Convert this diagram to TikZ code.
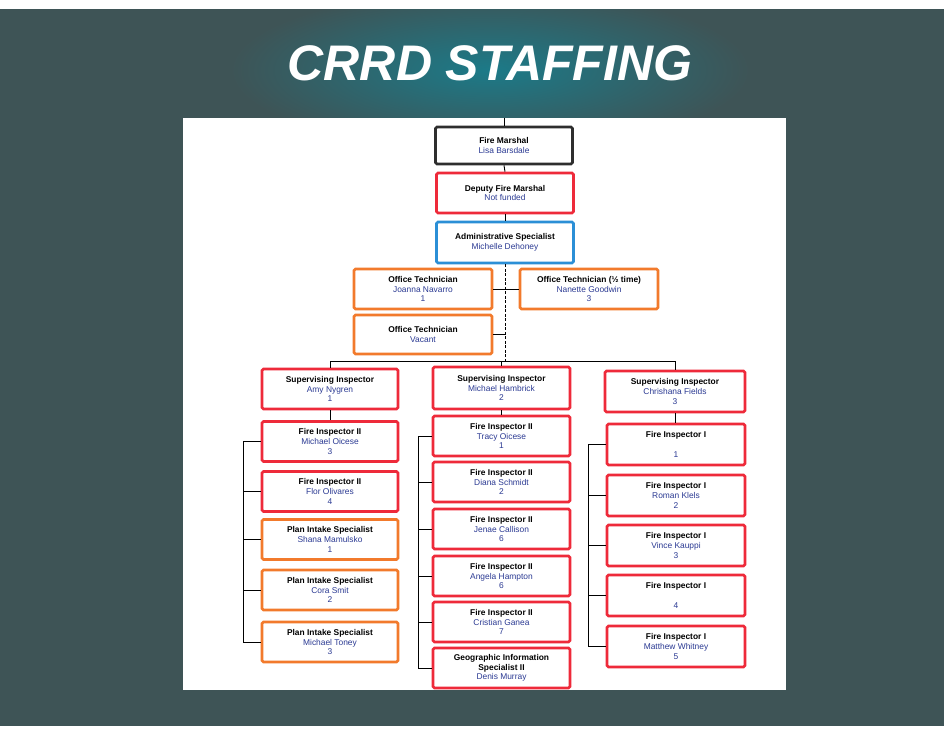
\documentclass[tikz,border=0pt]{standalone}
\usepackage{fontspec}
\setmainfont{Liberation Sans}
\definecolor{bgdark}{HTML}{3E5456}
\definecolor{bgteal}{HTML}{1C7A88}
\definecolor{boxred}{HTML}{EE2A3A}
\definecolor{boxorange}{HTML}{F27A2C}
\definecolor{boxblue}{HTML}{2B8FD6}
\definecolor{boxdark}{HTML}{2E2E2E}
\definecolor{nameblue}{HTML}{2B3A93}
\newcommand{\staffln}[3]{\textbf{#1}\\\textcolor{nameblue}{#2}\\\textcolor{nameblue}{#3}}
\newcommand{\stafftwo}[2]{\textbf{#1}\\\textcolor{nameblue}{#2}}
\tikzset{
  staffbox/.style={draw, line width=2.6pt, fill=white, rounded corners=1.5pt,
    minimum width=137pt, minimum height=40pt, align=center, inner sep=1pt,
    font=\fontsize{8.4}{9.6}\selectfont},
  redbox/.style={staffbox, draw=boxred},
  orangebox/.style={staffbox, draw=boxorange},
  bluebox/.style={staffbox, draw=boxblue},
  darkbox/.style={staffbox, draw=boxdark},
  conn/.style={draw=black, line width=0.9pt}
}
\begin{document}
\begin{tikzpicture}[x=1pt,y=-1pt]
\useasboundingbox (0,0) rectangle (951,729);
\fill[white] (0,0) rectangle (951,729);
\fill[bgdark] (0,9) rectangle (944,726);
\begin{scope}
\clip (0,9) rectangle (944,726);
\shade[inner color=bgteal, outer color=bgdark] (490,70) ellipse (260pt and 80pt);
\end{scope}
\fill[white] (183,118) rectangle (786,690);
% title
\node[text=white, font=\fontsize{50}{50}\selectfont\bfseries\itshape] (title) at (490,63) {CRRD STAFFING};
% top chain
\node[darkbox, minimum height=37pt] (fm) at (504,145.5) {\stafftwo{Fire Marshal}{Lisa Barsdale}};
\node[redbox] (dep) at (505,193) {\stafftwo{Deputy Fire Marshal}{Not funded}};
\node[bluebox, minimum height=41pt] (adm) at (505,242.5) {\stafftwo{Administrative Specialist}{Michelle Dehoney}};
\node[orangebox, minimum width=138pt] (jo) at (423,289) {\staffln{Office Technician}{Joanna Navarro}{1}};
\node[orangebox, minimum width=138pt] (half) at (589,289) {\staffln{Office Technician (½ time)}{Nanette Goodwin}{3}};
\node[orangebox, minimum width=138pt, minimum height=39pt] (vac) at (423,334.5) {\stafftwo{Office Technician}{Vacant}};
% supervisors
\node[redbox, minimum width=136pt] (amy) at (330,389) {\staffln{Supervising Inspector}{Amy Nygren}{1}};
\node[redbox, minimum height=42pt] (hamb) at (501.5,388) {\staffln{Supervising Inspector}{Michael Hambrick}{2}};
\node[redbox, minimum width=140pt, minimum height=41pt] (chr) at (675,391.5) {\staffln{Supervising Inspector}{Chrishana Fields}{3}};
% column 1
\node[redbox, minimum width=136pt] (ca) at (330,441.5) {\staffln{Fire Inspector II}{Michael Oicese}{3}};
\node[redbox, minimum width=136pt] (cb) at (330,491.5) {\staffln{Fire Inspector II}{Flor Olivares}{4}};
\node[orangebox, minimum width=136pt] (cc) at (330,539.5) {\staffln{Plan Intake Specialist}{Shana Mamulsko}{1}};
\node[orangebox, minimum width=136pt] (cd) at (330,590) {\staffln{Plan Intake Specialist}{Cora Smit}{2}};
\node[orangebox, minimum width=136pt] (ce) at (330,642) {\staffln{Plan Intake Specialist}{Michael Toney}{3}};
% column 2
\node[redbox] (da) at (501.5,436) {\staffln{Fire Inspector II}{Tracy Oicese}{1}};
\node[redbox] (db) at (501.5,482) {\staffln{Fire Inspector II}{Diana Schmidt}{2}};
\node[redbox] (dc) at (501.5,529) {\staffln{Fire Inspector II}{Jenae Callison}{6}};
\node[redbox] (dd) at (501.5,576) {\staffln{Fire Inspector II}{Angela Hampton}{6}};
\node[redbox] (de) at (501.5,622) {\staffln{Fire Inspector II}{Cristian Ganea}{7}};
\node[redbox] (df) at (501.5,668) {\textbf{Geographic Information}\\\textbf{Specialist II}\\\textcolor{nameblue}{Denis Murray}};
% column 3
\node[redbox, minimum width=138pt, minimum height=41pt] (ea) at (676,444.5) {\textbf{Fire Inspector I}\\\strut\\\textcolor{nameblue}{1}};
\node[redbox, minimum width=138pt, minimum height=41pt] (eb) at (676,495.5) {\staffln{Fire Inspector I}{Roman Klels}{2}};
\node[redbox, minimum width=138pt, minimum height=41pt] (ec) at (676,545.5) {\staffln{Fire Inspector I}{Vince Kauppi}{3}};
\node[redbox, minimum width=138pt, minimum height=41pt] (ed) at (676,595.5) {\textbf{Fire Inspector I}\\\strut\\\textcolor{nameblue}{4}};
\node[redbox, minimum width=138pt, minimum height=41pt] (ee) at (676,646.5) {\staffln{Fire Inspector I}{Matthew Whitney}{5}};
% connectors
\coordinate (topin) at (504,118);
\coordinate (bar) at (505,361);
\draw[conn] (topin) -- (fm.north);
\draw[conn] (fm.south) -- (dep.north);
\draw[conn] (dep.south) -- (adm.north);
\draw[conn, dash pattern=on 3pt off 1.5pt] (adm.south) -- (bar);
\draw[conn] (jo.east) -- (jo.east -| adm.south);
\draw[conn] (half.west) -- (half.west -| adm.south);
\draw[conn] (vac.east) -- (vac.east -| adm.south);
\draw[conn] (amy.north) -- (amy.north |- bar) -- (chr.north |- bar) -- (chr.north);
\draw[conn] (hamb.north) -- (hamb.north |- bar);
\draw[conn] (amy.south) -- (ca.north);
\draw[conn] (hamb.south) -- (da.north);
\draw[conn] (chr.south) -- (chr.south |- ea.north);
% brackets
\coordinate (br1) at (243,0);
\coordinate (br2) at (418,0);
\coordinate (br3) at (588,0);
\draw[conn] (ca.west -| br1) -- (ce.west -| br1);
\foreach \n in {ca,cb,cc,cd,ce} \draw[conn] (\n.west) -- (\n.west -| br1);
\draw[conn] (da.west -| br2) -- (df.west -| br2);
\foreach \n in {da,db,dc,dd,de,df} \draw[conn] (\n.west) -- (\n.west -| br2);
\draw[conn] (ea.west -| br3) -- (ee.west -| br3);
\foreach \n in {ea,eb,ec,ed,ee} \draw[conn] (\n.west) -- (\n.west -| br3);
\end{tikzpicture}
\end{document}
